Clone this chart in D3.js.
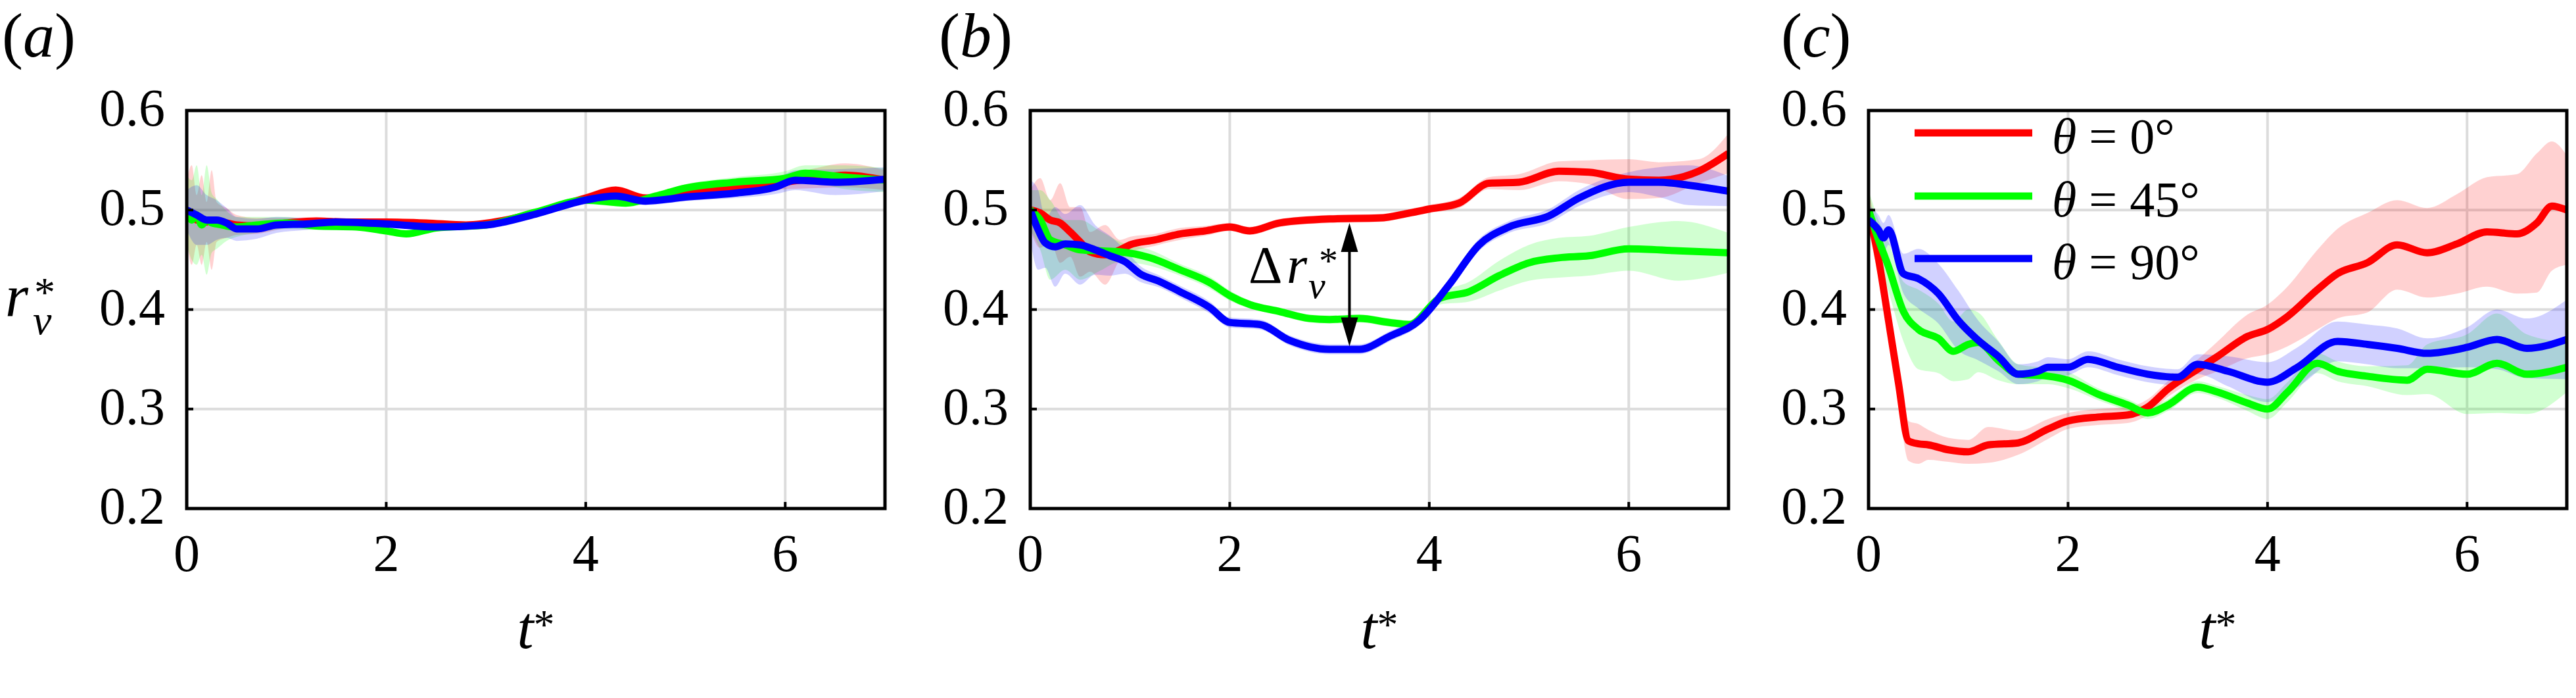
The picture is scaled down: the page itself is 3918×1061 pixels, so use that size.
<!DOCTYPE html>
<html>
<head>
<meta charset="utf-8">
<script src="https://cdn.jsdelivr.net/npm/d3@7"></script>
<style>
  html, body { margin: 0; padding: 0; background: #fff; }
</style>
</head>
<body>
<div id="chart"></div>
<script>
// each entry: [t*, mean r_v*, half width of the shaded band]
const redA = [[0,0.50,0.03],[0.05,0.495,0.05],[0.1,0.49,0.025],[0.15,0.49,0.045],[0.2,0.488,0.02],[0.25,0.49,0.05],[0.3,0.488,0.02],[0.4,0.487,0.015],[0.5,0.485,0.01],[0.7,0.484,0.008],[1.0,0.487,0.005],[1.3,0.489,0.004],[1.6,0.488,0.003],[2.0,0.488,0.003],[2.4,0.487,0.003],[2.8,0.485,0.003],[3.2,0.49,0.003],[3.6,0.5,0.003],[4.0,0.512,0.004],[4.3,0.52,0.004],[4.6,0.512,0.004],[5.0,0.517,0.004],[5.5,0.522,0.005],[6.0,0.528,0.007],[6.3,0.532,0.01],[6.6,0.535,0.012],[7.0,0.53,0.01]];
const greenA = [[0,0.5,0.035],[0.05,0.49,0.04],[0.1,0.495,0.05],[0.15,0.485,0.03],[0.2,0.49,0.055],[0.25,0.487,0.03],[0.3,0.486,0.025],[0.4,0.484,0.015],[0.5,0.483,0.01],[0.7,0.485,0.008],[1.0,0.487,0.006],[1.3,0.484,0.004],[1.7,0.483,0.003],[2.0,0.479,0.003],[2.2,0.476,0.003],[2.5,0.482,0.003],[3.0,0.485,0.003],[3.5,0.498,0.003],[4.0,0.51,0.004],[4.4,0.507,0.004],[4.7,0.514,0.004],[5.0,0.522,0.004],[5.5,0.528,0.005],[6.0,0.532,0.007],[6.2,0.537,0.008],[6.6,0.533,0.012],[7.0,0.53,0.012]];
const blueA = [[0,0.5,0.02],[0.1,0.495,0.03],[0.2,0.49,0.025],[0.3,0.49,0.02],[0.4,0.487,0.015],[0.5,0.481,0.012],[0.7,0.481,0.01],[0.9,0.485,0.008],[1.2,0.486,0.006],[1.5,0.488,0.004],[2.0,0.486,0.003],[2.5,0.483,0.003],[3.0,0.485,0.003],[3.5,0.496,0.003],[4.0,0.51,0.004],[4.3,0.514,0.004],[4.6,0.509,0.004],[5.0,0.513,0.004],[5.5,0.517,0.005],[5.9,0.523,0.007],[6.1,0.53,0.01],[6.5,0.528,0.013],[7.0,0.531,0.012]];

const redB = [[0,0.5,0.02],[0.1,0.497,0.035],[0.2,0.49,0.02],[0.3,0.487,0.04],[0.4,0.478,0.025],[0.5,0.468,0.035],[0.6,0.458,0.02],[0.75,0.455,0.03],[0.9,0.46,0.01],[1.0,0.465,0.008],[1.25,0.47,0.006],[1.5,0.476,0.006],[1.75,0.479,0.005],[2.0,0.483,0.004],[2.2,0.479,0.004],[2.5,0.487,0.004],[3.0,0.491,0.004],[3.5,0.492,0.004],[3.8,0.497,0.004],[4.0,0.501,0.004],[4.3,0.507,0.005],[4.6,0.527,0.006],[4.9,0.528,0.008],[5.3,0.539,0.01],[5.6,0.538,0.012],[6.0,0.531,0.02],[6.3,0.53,0.018],[6.7,0.539,0.012],[7.0,0.557,0.02]];
const greenB = [[0,0.5,0.02],[0.1,0.49,0.03],[0.2,0.47,0.04],[0.35,0.465,0.025],[0.5,0.46,0.03],[0.7,0.459,0.02],[0.9,0.458,0.01],[1.2,0.452,0.008],[1.5,0.44,0.006],[1.8,0.427,0.006],[2.0,0.414,0.005],[2.2,0.405,0.004],[2.5,0.398,0.004],[2.8,0.391,0.004],[3.0,0.39,0.004],[3.3,0.391,0.004],[3.6,0.387,0.004],[3.8,0.385,0.004],[4.1,0.411,0.006],[4.4,0.418,0.01],[4.7,0.434,0.015],[5.0,0.447,0.018],[5.3,0.452,0.02],[5.6,0.454,0.02],[6.0,0.461,0.022],[6.5,0.459,0.03],[7.0,0.457,0.02]];
const blueB = [[0,0.5,0.03],[0.08,0.48,0.04],[0.15,0.467,0.025],[0.25,0.463,0.04],[0.35,0.466,0.03],[0.5,0.465,0.04],[0.65,0.46,0.025],[0.8,0.454,0.02],[0.95,0.448,0.012],[1.1,0.436,0.008],[1.3,0.428,0.006],[1.5,0.418,0.006],[1.8,0.402,0.006],[2.0,0.387,0.005],[2.3,0.385,0.005],[2.6,0.369,0.005],[3.0,0.36,0.005],[3.3,0.36,0.005],[3.6,0.373,0.005],[3.9,0.389,0.005],[4.2,0.425,0.006],[4.5,0.465,0.006],[4.8,0.483,0.006],[5.2,0.494,0.007],[5.5,0.512,0.008],[6.0,0.528,0.01],[6.3,0.528,0.015],[6.6,0.525,0.02],[7.0,0.519,0.015]];

const redC = [[0,0.5,0.02],[0.1,0.451,0.02],[0.2,0.389,0.02],[0.3,0.326,0.02],[0.4,0.268,0.02],[0.5,0.265,0.02],[0.6,0.264,0.015],[0.8,0.259,0.012],[1.0,0.257,0.012],[1.2,0.264,0.018],[1.5,0.266,0.012],[1.8,0.28,0.01],[2.0,0.288,0.008],[2.3,0.292,0.008],[2.6,0.294,0.008],[2.8,0.302,0.008],[3.0,0.32,0.008],[3.3,0.34,0.01],[3.5,0.353,0.015],[3.8,0.373,0.022],[4.0,0.38,0.025],[4.2,0.393,0.03],[4.5,0.42,0.04],[4.7,0.436,0.045],[5.0,0.447,0.05],[5.3,0.465,0.045],[5.6,0.457,0.045],[5.9,0.466,0.05],[6.2,0.478,0.055],[6.5,0.476,0.06],[6.7,0.487,0.07],[6.85,0.504,0.065],[7.0,0.5,0.055]];
const greenC = [[0,0.5,0.02],[0.1,0.47,0.02],[0.2,0.443,0.025],[0.35,0.398,0.03],[0.5,0.38,0.04],[0.7,0.371,0.035],[0.85,0.358,0.03],[1.0,0.365,0.035],[1.1,0.367,0.03],[1.3,0.349,0.02],[1.5,0.335,0.01],[1.8,0.333,0.008],[2.0,0.329,0.008],[2.3,0.315,0.006],[2.6,0.304,0.006],[2.8,0.296,0.006],[3.0,0.304,0.006],[3.3,0.322,0.006],[3.5,0.317,0.006],[3.8,0.306,0.008],[4.0,0.3,0.01],[4.2,0.317,0.01],[4.5,0.346,0.01],[4.7,0.338,0.01],[5.0,0.333,0.01],[5.4,0.329,0.015],[5.6,0.34,0.025],[6.0,0.335,0.04],[6.3,0.346,0.05],[6.6,0.335,0.04],[7.0,0.342,0.025]];
const blueC = [[0,0.49,0.015],[0.1,0.48,0.015],[0.15,0.472,0.015],[0.2,0.48,0.015],[0.35,0.436,0.02],[0.5,0.431,0.03],[0.7,0.416,0.03],[0.9,0.389,0.03],[1.1,0.369,0.02],[1.3,0.353,0.015],[1.5,0.335,0.01],[1.7,0.338,0.01],[1.8,0.342,0.01],[2.0,0.342,0.008],[2.2,0.35,0.008],[2.5,0.342,0.008],[2.8,0.335,0.008],[3.1,0.332,0.008],[3.3,0.345,0.01],[3.6,0.338,0.015],[4.0,0.327,0.02],[4.3,0.342,0.02],[4.7,0.368,0.02],[5.0,0.365,0.02],[5.3,0.361,0.02],[5.6,0.356,0.015],[6.0,0.362,0.02],[6.3,0.37,0.03],[6.6,0.361,0.03],[7.0,0.37,0.04]];

const panelLabels = ['a', 'b', 'c'];
const seriesColors = ['#ff0000', '#00ff00', '#0000ff'];
const legendLabels = ['0°', '45°', '90°'];
const xTicks = [0, 2, 4, 6];
const yTicks = [0.2, 0.3, 0.4, 0.5, 0.6];
// delta arrow in panel (b): [t*, from, to]
const deltaArrow = [3.2, 0.487, 0.363];

const panels = [[redA, greenA, blueA], [redB, greenB, blueB], [redC, greenC, blueC]];

const W = 3918, H = 1061;
const lefts = [284, 1567, 2842];
const pw = 1062, plotTop = 168, ph = 605;
const serif = "'Liberation Serif', 'Times New Roman', 'DejaVu Serif', serif";

const svg = d3.select('#chart').append('svg')
  .attr('width', W).attr('height', H)
  .attr('font-family', serif);

const defs = svg.append('defs');

function txt(parent, x, y, size) {
  return parent.append('text')
    .attr('x', x).attr('y', y)
    .attr('font-size', size)
    .style('font-family', serif)
    .attr('fill', '#000');
}

panels.forEach((series, p) => {
  const x0 = lefts[p];
  const x = d3.scaleLinear().domain([0, 7]).range([x0, x0 + pw]);
  const y = d3.scaleLinear().domain([0.2, 0.6]).range([plotTop + ph, plotTop]);

  defs.append('clipPath').attr('id', 'clip' + p)
    .append('rect').attr('x', x0).attr('y', plotTop).attr('width', pw).attr('height', ph);

  const g = svg.append('g');

  // grid
  g.selectAll('.vgrid').data(xTicks.filter(d => d > 0)).enter()
    .append('line')
      .attr('x1', d => x(d)).attr('x2', d => x(d))
      .attr('y1', plotTop).attr('y2', plotTop + ph)
      .attr('stroke', '#dcdcdc').attr('stroke-width', 4);
  g.selectAll('.hgrid').data(yTicks.filter(d => d > 0.2 && d < 0.6)).enter()
    .append('line')
      .attr('x1', x0).attr('x2', x0 + pw)
      .attr('y1', d => y(d)).attr('y2', d => y(d))
      .attr('stroke', '#dcdcdc').attr('stroke-width', 4);

  const plot = g.append('g').attr('clip-path', `url(#clip${p})`);

  const area = d3.area()
    .curve(d3.curveMonotoneX)
    .x(d => x(d[0]))
    .y0(d => y(d[1] - d[2]))
    .y1(d => y(d[1] + d[2]));
  const line = d3.line()
    .curve(d3.curveMonotoneX)
    .x(d => x(d[0]))
    .y(d => y(d[1]));

  series.forEach((s, i) => {
    plot.append('path')
      .datum(s)
      .attr('d', area)
      .attr('fill', seriesColors[i])
      .attr('fill-opacity', 0.18);
  });
  series.forEach((s, i) => {
    plot.append('path')
      .datum(s)
      .attr('d', line)
      .attr('fill', 'none')
      .attr('stroke', seriesColors[i])
      .attr('stroke-width', 11)
      .attr('stroke-linejoin', 'round');
  });

  // ticks (inward)
  g.selectAll('.xt').data(xTicks).enter().append('line')
    .attr('x1', d => x(d)).attr('x2', d => x(d))
    .attr('y1', plotTop + ph).attr('y2', plotTop + ph - 10)
    .attr('stroke', '#000').attr('stroke-width', 4);
  g.selectAll('.yt').data(yTicks).enter().append('line')
    .attr('x1', x0).attr('x2', x0 + 10)
    .attr('y1', d => y(d)).attr('y2', d => y(d))
    .attr('stroke', '#000').attr('stroke-width', 4);

  // frame
  g.append('rect')
    .attr('x', x0).attr('y', plotTop).attr('width', pw).attr('height', ph)
    .attr('fill', 'none').attr('stroke', '#000').attr('stroke-width', 5);

  // tick labels
  xTicks.forEach(d => {
    txt(g, x(d), plotTop + ph + 95, 80).attr('text-anchor', 'middle').text(d);
  });
  yTicks.forEach(d => {
    txt(g, x0 - 33, y(d) + 23, 80).attr('text-anchor', 'end').text(d.toFixed(1));
  });

  // x label t*
  const xl = txt(g, x0 + pw / 2, 985, 90).attr('text-anchor', 'middle');
  xl.append('tspan').attr('font-style', 'italic').text('t');
  xl.append('tspan').attr('font-size', 64).attr('dy', -14).text('*');

  // panel label
  const labelX = [3, 1428, 2709][p];
  const pl = txt(g, labelX, 86, 96);
  pl.append('tspan').text('(');
  pl.append('tspan').attr('font-style', 'italic').text(panelLabels[p]);
  pl.append('tspan').text(')');

  if (p === 0) {
    txt(g, 8, 480, 90).attr('font-style', 'italic').text('r');
    txt(g, 50, 508, 64).attr('font-style', 'italic').text('v');
    txt(g, 52, 466, 64).text('*');
  }

  if (p === 1) {
    const ax = x(deltaArrow[0]);
    const ya = y(deltaArrow[1]), yb = y(deltaArrow[2]);
    const hl = 44, hw = 13;
    g.append('line')
      .attr('x1', ax).attr('x2', ax).attr('y1', ya + hl - 2).attr('y2', yb - hl + 2)
      .attr('stroke', '#000').attr('stroke-width', 4);
    g.append('path')
      .attr('d', `M${ax},${ya} L${ax - hw},${ya + hl} L${ax + hw},${ya + hl} Z`)
      .attr('fill', '#000');
    g.append('path')
      .attr('d', `M${ax},${yb} L${ax - hw},${yb - hl} L${ax + hw},${yb - hl} Z`)
      .attr('fill', '#000');
    txt(g, 1899, 430, 80).text('Δ');
    txt(g, 1957, 430, 80).attr('font-style', 'italic').text('r');
    txt(g, 1990, 453, 58).attr('font-style', 'italic').text('v');
    txt(g, 2006, 416, 58).text('*');
  }

  if (p === 2) {
    const legY = [202, 298, 393];
    legendLabels.forEach((lab, i) => {
      g.append('line')
        .attr('x1', 2912).attr('x2', 3091)
        .attr('y1', legY[i]).attr('y2', legY[i])
        .attr('stroke', seriesColors[i]).attr('stroke-width', 11);
      const t = txt(g, 3121, legY[i] + 31, 76);
      t.append('tspan').attr('font-style', 'italic').text('θ');
      t.append('tspan').text(' = ' + lab);
    });
  }
});
</script>
</body>
</html>
